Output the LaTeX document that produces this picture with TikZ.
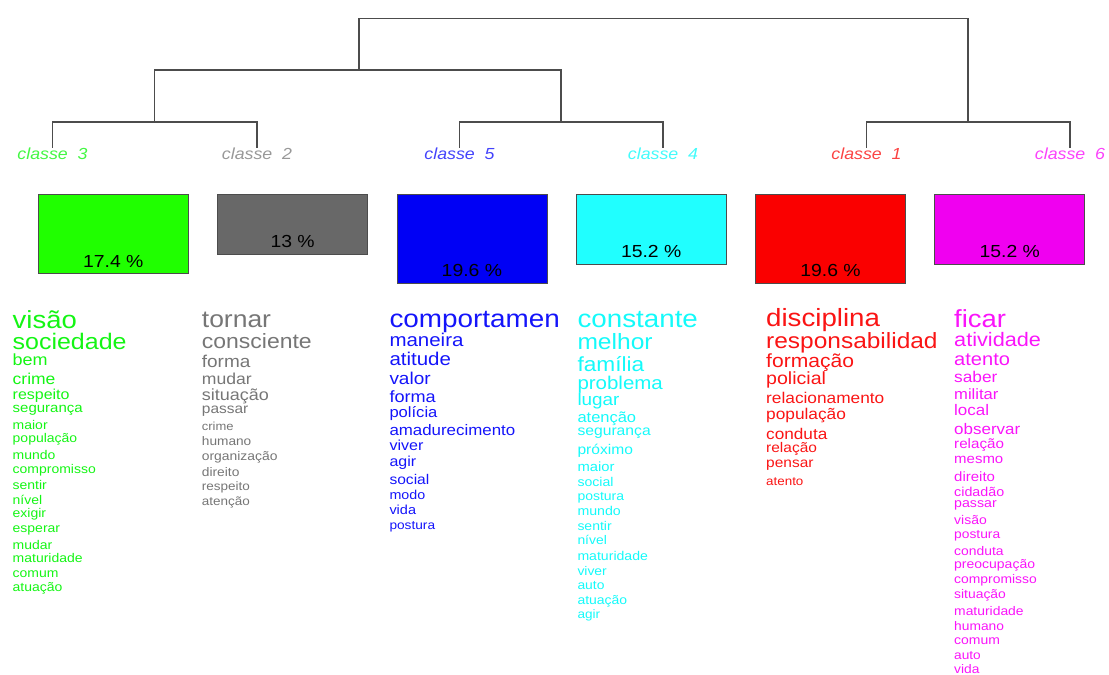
\documentclass[tikz,border=0pt]{standalone}
\usepackage{fontspec}
\setmainfont[Scale=0.9, FakeStretch=1.11]{Liberation Sans}
\usetikzlibrary{positioning}
\definecolor{cgreen}{RGB}{20,245,20}
\definecolor{cgrey}{RGB}{118,118,118}
\definecolor{cblue}{RGB}{20,20,250}
\definecolor{ccyan}{RGB}{20,250,250}
\definecolor{cred}{RGB}{250,20,20}
\definecolor{cmag}{RGB}{250,20,250}
\definecolor{bgreen}{RGB}{32,255,0}
\definecolor{bgrey}{RGB}{104,104,104}
\definecolor{bblue}{RGB}{0,0,245}
\definecolor{bcyan}{RGB}{32,255,255}
\definecolor{bred}{RGB}{250,0,0}
\definecolor{bmag}{RGB}{240,0,240}
\begin{document}
\begin{tikzpicture}[
  x=1pt, y=-1pt,
  dendro/.style={draw=black!70, line width=1.3pt},
  classlbl/.style={inner sep=0pt, anchor=base, font=\fontsize{17.8}{17.8}\selectfont\itshape},
  bar/.style={draw=black!70, line width=0.8pt, minimum width=150pt, anchor=north, inner sep=0pt},
  pct/.style={inner sep=0pt, font=\fontsize{19.4}{19.4}\selectfont},
  word/.style={inner sep=0pt, anchor=base west}
]
  \useasboundingbox (0,0) rectangle (1109,675);

  % Class labels (leaves of the tree).
  \node[classlbl, text=cgreen!80!white] (k3) at (52.5,159.5) {classe~~3};
  \node[classlbl, text=cgrey!75!white] (k2) at (257,159.5) {classe~~2};
  \node[classlbl, text=cblue!80!white] (k5) at (459.5,159.5) {classe~~5};
  \node[classlbl, text=ccyan!80!white] (k4) at (663,159.5) {classe~~4};
  \node[classlbl, text=cred!80!white] (k1) at (866.5,159.5) {classe~~1};
  \node[classlbl, text=cmag!80!white] (k6) at (1070,159.5) {classe~~6};

  % Merge points.
  \coordinate (m32) at (154.5,122);
  \coordinate (m54) at (561,122);
  \coordinate (m16) at (968,122);
  \coordinate (m3254) at (359,70);
  \coordinate (root) at (663,18.5);

  % Dendrogram.
  \draw[dendro] (k3.north) |- (m32) -| (k2.north);
  \draw[dendro] (k5.north) |- (m54) -| (k4.north);
  \draw[dendro] (k1.north) |- (m16) -| (k6.north);
  \draw[dendro] (m32) |- (m3254) -| (m54);
  \draw[dendro] (m3254) |- (root) -| (m16);

  % Size bars.
  \node[bar, fill=bgreen, minimum height=79pt] (b3) at (113.3,193.5) {};
  \node[bar, fill=bgrey, minimum height=60pt] (b2) at (292.6,193.5) {};
  \node[bar, fill=bblue, minimum height=89pt] (b5) at (471.9,193.5) {};
  \node[bar, fill=bcyan, minimum height=70pt] (b4) at (651.2,193.5) {};
  \node[bar, fill=bred, minimum height=89pt] (b1) at (830.5,193.5) {};
  \node[bar, fill=bmag, minimum height=70pt] (b6) at (1009.8,193.5) {};
  \node[pct, above=6pt of b3.south] (p3) {17.4 \%};
  \node[pct, above=6pt of b2.south] (p2) {13 \%};
  \node[pct, above=6pt of b5.south] (p5) {19.6 \%};
  \node[pct, above=6pt of b4.south] (p4) {15.2 \%};
  \node[pct, above=6pt of b1.south] (p1) {19.6 \%};
  \node[pct, above=6pt of b6.south] (p6) {15.2 \%};

  % Word lists: word/size/baseline.
  \foreach \wrd/\fs/\yb [count=\i] in {visão/27.5/328, sociedade/25/349.5, bem/18/365.5,
      crime/17.5/384.5, respeito/16/399.7, segurança/15/412.8, maior/14/429.5,
      população/14/442.5, mundo/14/459.2, compromisso/14/473.5, sentir/14/489.2,
      nível/14/504.5, exigir/14/517.2, esperar/14/532.2, mudar/14/549.2,
      maturidade/14/562.8, comum/14/577.5, atuação/14/591.8}
    \node[word, text=cgreen, font=\fontsize{\fs}{\fs}\selectfont] (w3-\i) at (12.5,\yb) {\wrd};

  \foreach \wrd/\fs/\yb [count=\i] in {tornar/26.5/327.3, consciente/23/348.5, forma/19/367,
      mudar/17.6/384.4, situação/18/400.5, passar/15.5/413.9, crime/13/430.5,
      humano/13.7/445.7, organização/13.9/460.8, direito/13.8/476.8,
      respeito/13.5/490, atenção/13.5/505}
    \node[word, text=cgrey, font=\fontsize{\fs}{\fs}\selectfont] (w2-\i) at (201.7,\yb) {\wrd};

  \foreach \wrd/\fs/\yb [count=\i] in {comportamen/27.9/327, maneira/20.5/346.8, atitude/20.5/365.1,
      valor/19/384, forma/18.1/402.2, polícia/16.6/417.5, amadurecimento/16.9/435.9,
      viver/16.1/450.7, agir/16/466.3, social/15.6/484.9, modo/14.3/499.6,
      vida/14.5/514.6, postura/13.7/529.1}
    \node[word, text=cblue, font=\fontsize{\fs}{\fs}\selectfont] (w5-\i) at (389.3,\yb) {\wrd};

  \foreach \wrd/\fs/\yb [count=\i] in {constante/27.8/327.7, melhor/24.6/349.5, família/22.7/371.7,
      problema/20.5/389, lugar/18.9/405.5, atenção/16.5/422.4, segurança/15.7/435.9,
      próximo/15.6/454.6, maior/14.8/471, social/14.1/486.2, postura/14/500.2,
      mundo/14.2/515.2, sentir/14/530.2, nível/13.9/544.2, maturidade/14.1/560.2,
      viver/13.9/575.2, auto/13.9/589.5, atuação/14/604.2, agir/13.6/618.4}
    \node[word, text=ccyan, font=\fontsize{\fs}{\fs}\selectfont] (w4-\i) at (577.3,\yb) {\wrd};

  \begin{scope}
    \clip (755,300) rectangle (937,500);
    \foreach \wrd/\fs/\yb [count=\i] in {disciplina/27.7/326.5, responsabilidade/24.5/348,
        formação/21.1/367.5, policial/19.6/384.9, relacionamento/17.3/403.6,
        população/17.3/419.3, conduta/17.2/439, relação/15.5/452.5,
        pensar/15.5/467.9, atento/13.4/485}
      \node[word, text=cred, font=\fontsize{\fs}{\fs}\selectfont] (w1-\i) at (766,\yb) {\wrd};
  \end{scope}

  \foreach \wrd/\fs/\yb [count=\i] in {ficar/27.5/327.6, atividade/21.7/346.1, atento/20.1/365,
      saber/17.3/382, militar/16.6/399.2, local/17/415.3, observar/17/434.3,
      relação/15.2/448.1, mesmo/15/463, direito/15/481.5, cidadão/14.3/496.3,
      passar/14.2/507.6, visão/14/524.5, postura/13.8/538.5, conduta/13.9/555.2,
      preocupação/14/568.5, compromisso/13.9/583.5, situação/13.9/598.5,
      maturidade/13.9/615.2, humano/13.8/630.7, comum/14/644.2, auto/13.7/659.4,
      vida/13.8/673.4}
    \node[word, text=cmag, font=\fontsize{\fs}{\fs}\selectfont] (w6-\i) at (954,\yb) {\wrd};
\end{tikzpicture}
\end{document}
